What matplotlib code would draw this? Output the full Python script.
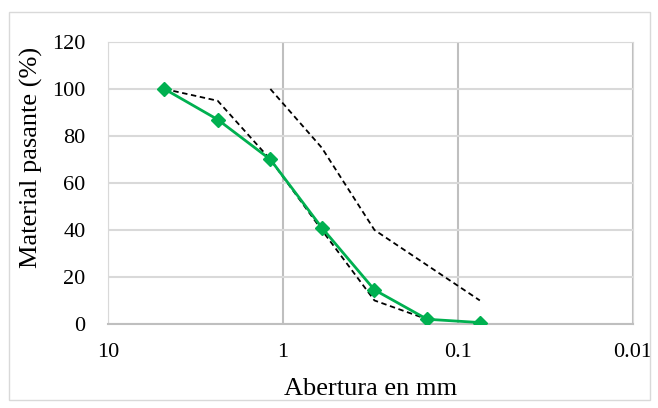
import numpy as np
import matplotlib.pyplot as plt
from matplotlib.patches import Rectangle

plt.rcParams['font.family'] = ['Liberation Serif', 'DejaVu Serif']

# sieve openings (mm) and percent passing
abertura = [4.75, 2.36, 1.18, 0.6, 0.3, 0.15, 0.075]
pasante = [100, 87, 70, 41, 14.5, 2, 0.6]

lim_inf_x = [4.75, 2.36, 1.18, 0.6, 0.3, 0.15]
lim_inf_y = [100, 95, 70, 40, 10, 2]

lim_sup_x = [1.18, 0.6, 0.3, 0.15, 0.075]
lim_sup_y = [100, 75, 40, 25, 10]

fig = plt.figure(figsize=(6.58, 4.08), dpi=100)
ax = fig.add_axes([0.164, 0.206, 0.798, 0.691])

# border of the chart area
fig.patches.append(Rectangle((0.013, 0.02), 0.975, 0.951, transform=fig.transFigure,
                             fill=False, edgecolor='#d9d9d9', linewidth=1))

ax.plot(lim_inf_x, lim_inf_y, color='black', linestyle=(0, (3, 2)), linewidth=1.3, zorder=3)
ax.plot(lim_sup_x, lim_sup_y, color='black', linestyle=(0, (3, 2)), linewidth=1.3, zorder=3)
ax.plot(abertura, pasante, color='#00B050', linewidth=2, marker='D', markersize=7.5, zorder=4)

ax.set_xscale('log')
ax.set_xlim(10, 0.01)
ax.set_ylim(0, 120)
ax.set_xticks([10, 1, 0.1, 0.01])
ax.set_xticklabels(['10', '1', '0.1', '0.01'])
ax.minorticks_off()
ax.set_yticks(np.arange(0, 121, 20))

ax.yaxis.grid(True, color='#d9d9d9', linewidth=1.5)
ax.xaxis.grid(True, color='#bfbfbf', linewidth=1.5)
ax.set_axisbelow(True)
ax.tick_params(length=0, labelsize=16)
ax.tick_params(axis='y', pad=16)
ax.tick_params(axis='x', pad=14)

for s in ['top', 'left', 'right']:
    ax.spines[s].set_color('#d9d9d9')
ax.spines['bottom'].set_color('#bfbfbf')
ax.spines['bottom'].set_linewidth(1.5)

ax.set_xlabel('Abertura en mm', fontsize=19, va='baseline')
ax.xaxis.set_label_coords(0.5, -0.252)
ax.set_ylabel('Material pasante (%)', fontsize=19)
ax.yaxis.set_label_coords(-0.124, 0.59)

fig.savefig('out.png', dpi=100)
